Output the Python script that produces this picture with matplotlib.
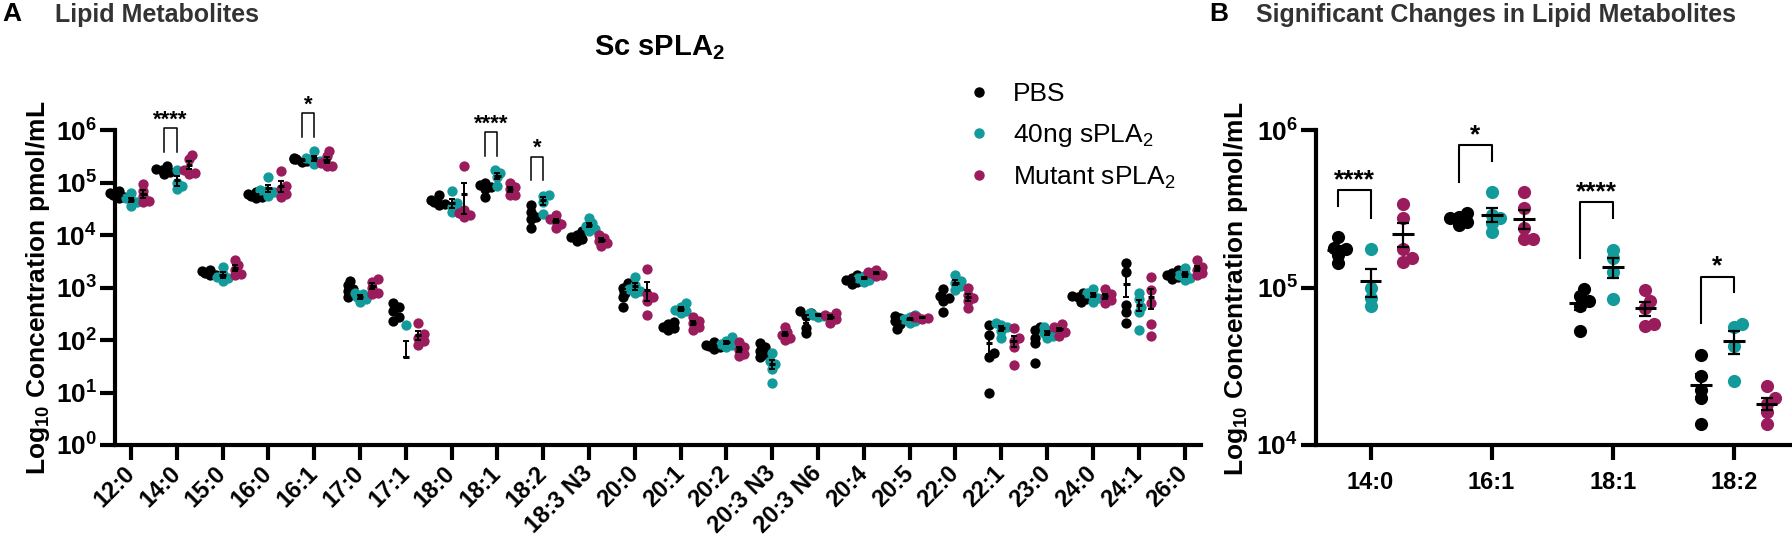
import numpy as np
import matplotlib
matplotlib.use("Agg")
import matplotlib.pyplot as plt
from matplotlib.lines import Line2D
from matplotlib.ticker import NullLocator

plt.rcParams['font.family'] = ['Liberation Sans', 'DejaVu Sans']
plt.rcParams['mathtext.fontset'] = 'custom'
plt.rcParams['mathtext.rm'] = 'Liberation Sans'
plt.rcParams['mathtext.bf'] = 'Liberation Sans:bold'
plt.rcParams['mathtext.it'] = 'Liberation Sans:italic'

# lipid species (x categories of panel A)
lipids = ["12:0", "14:0", "15:0", "16:0", "16:1", "17:0", "17:1", "18:0", "18:1", "18:2",
          "18:3 N3", "20:0", "20:1", "20:2", "20:3 N3", "20:3 N6", "20:4", "20:5", "22:0",
          "22:1", "23:0", "24:0", "24:1", "26:0"]

groups = ["PBS", r"40ng sPLA$_\mathregular{2}$", r"Mutant sPLA$_\mathregular{2}$"]
colors = ["#000000", "#139a9a", "#9a1c5c"]

# concentrations, pmol/mL (one list of replicates per lipid)
pbs = [
    [6.8e4, 6.2e4, 5.8e4, 5.4e4, 5.0e4],
    [2.08e5, 1.79e5, 1.75e5, 1.62e5, 1.43e5],
    [2.2e3, 2.1e3, 1.9e3, 1.75e3, 1.7e3],
    [6.5e4, 6.0e4, 5.6e4, 5.3e4, 5.0e4],
    [2.97e5, 2.82e5, 2.75e5, 2.62e5, 2.49e5],
    [1.35e3, 1.1e3, 9.5e2, 8.5e2, 6.5e2],
    [5.0e2, 4.2e2, 3.6e2, 2.7e2, 2.3e2],
    [5.8e4, 4.6e4, 4.2e4, 3.9e4, 3.7e4],
    [9.75e4, 8.8e4, 8.2e4, 7.6e4, 5.3e4],
    [3.73e4, 2.75e4, 2.25e4, 1.98e4, 1.36e4],
    [1.2e4, 1.0e4, 9.0e3, 8.5e3, 7.8e3],
    [1.2e3, 1.0e3, 8.0e2, 6.5e2, 4.2e2],
    [220, 200, 180, 170, 155],
    [90, 82, 78, 72, 68],
    [88, 72, 62, 55, 48],
    [350, 320, 290, 170, 135],
    [1.7e3, 1.55e3, 1.4e3, 1.3e3, 1.15e3],
    [290, 260, 230, 200, 160],
    [950, 700, 620, 560, 340],
    [195, 125, 56, 48, 10],
    [178, 155, 110, 87, 36],
    [780, 700, 650, 600, 520],
    [2.9e3, 2.0e3, 470, 340, 210],
    [2.2e3, 1.9e3, 1.7e3, 1.6e3, 1.45e3],
]
spla = [
    [6.2e4, 5.0e4, 4.6e4, 4.2e4, 3.6e4],
    [1.75e5, 1.0e5, 8.6e4, 7.6e4],
    [2.5e3, 1.8e3, 1.6e3, 1.5e3, 1.35e3],
    [1.25e5, 7.2e4, 6.8e4, 6.5e4, 5.5e4],
    [4.02e5, 2.9e5, 2.75e5, 2.55e5, 2.25e5],
    [8.0e2, 7.5e2, 6.5e2, 6.0e2, 5.3e2],
    [190, 0, 0, 0],
    [7.0e4, 4.0e4, 3.4e4, 3.0e4, 2.7e4],
    [1.74e5, 1.54e5, 1.26e5, 8.4e4],
    [5.88e4, 5.59e4, 4.23e4, 2.55e4],
    [2.1e4, 1.7e4, 1.5e4, 1.3e4, 1.2e4],
    [1.6e3, 1.1e3, 9.5e2, 8.5e2, 7.8e2],
    [500, 420, 380, 350, 320],
    [115, 95, 85, 80, 75],
    [56, 40, 35, 28, 15],
    [330, 310, 300, 290, 280],
    [1.8e3, 1.65e3, 1.5e3, 1.4e3, 1.3e3],
    [300, 270, 250, 230, 210],
    [1.7e3, 1.35e3, 1.2e3, 1.05e3, 900],
    [210, 190, 175, 150, 110],
    [180, 150, 135, 120, 110],
    [950, 780, 700, 620, 540],
    [800, 600, 420, 340, 155],
    [2.4e3, 1.9e3, 1.7e3, 1.5e3, 1.4e3],
]
mutant = [
    [9.5e4, 7.0e4, 5.5e4, 4.5e4, 4.2e4],
    [3.4e5, 2.78e5, 1.75e5, 1.54e5, 1.46e5],
    [3.3e3, 2.7e3, 2.2e3, 1.8e3, 1.7e3],
    [1.65e5, 8.5e4, 7.5e4, 6.0e4, 5.2e4],
    [4.02e5, 3.2e5, 2.37e5, 2.03e5, 2.03e5],
    [1.45e3, 1.3e3, 1.0e3, 8.0e2, 7.5e2],
    [210, 130, 110, 95, 80],
    [2.05e5, 3.0e4, 2.6e4, 2.4e4, 2.2e4],
    [9.6e4, 8.2e4, 7.4e4, 5.9e4, 5.7e4],
    [2.36e4, 1.98e4, 1.83e4, 1.62e4, 1.36e4],
    [1.0e4, 8.8e3, 7.8e3, 7.0e3, 6.3e3],
    [2.3e3, 750, 650, 550, 300],
    [280, 230, 210, 180, 155],
    [92, 75, 65, 55, 50],
    [175, 140, 125, 110, 100],
    [330, 300, 280, 250, 210],
    [2.2e3, 2.0e3, 1.85e3, 1.75e3, 1.65e3],
    [290, 280, 270, 260, 250],
    [980, 720, 640, 560, 400],
    [170, 110, 95, 74, 33],
    [200, 175, 160, 140, 120],
    [950, 750, 670, 580, 500],
    [1.6e3, 900, 500, 200, 120],
    [3.3e3, 2.5e3, 2.2e3, 1.9e3, 1.7e3],
]

# PBS vs 40ng sPLA2 significance
sig = {"14:0": "****", "16:1": "*", "18:1": "****", "18:2": "*"}

data = [pbs, spla, mutant]
offsets = [-0.27, 0.0, 0.27]


def swarm(vals, dx, dy):
    # spread overlapping dots sideways (dx, dy = collision size in x units / decades)
    logs = np.log10(np.clip(vals, 1e-9, None))
    offs = np.zeros(len(vals))
    placed = []
    for i in np.argsort(logs):
        o = 0.0
        for k in [0, 1, -1, 2, -2, 3, -3]:
            o = k * dx / 2
            if all(((o - po) / dx) ** 2 + ((logs[i] - pl) / dy) ** 2 >= 1 for po, pl in placed):
                break
        offs[i] = o
        placed.append((o, logs[i]))
    return offs


def mean_sem(vals):
    v = np.array(vals, dtype=float)
    m = v.mean()
    s = v.std(ddof=1) / np.sqrt(len(v))
    lo = m - s if m - s > 0 else m
    return m, m - lo, s


def style_axis(ax):
    for side in ["top", "right"]:
        ax.spines[side].set_visible(False)
    for side in ["left", "bottom"]:
        ax.spines[side].set_linewidth(3)
    ax.tick_params(axis="both", which="major", length=11, width=3, direction="out")
    ax.yaxis.set_minor_locator(NullLocator())


fig = plt.figure(figsize=(17.92, 5.43), dpi=100)
axA = fig.add_axes([115 / 1792, 98 / 543, 1086 / 1792, 315 / 543])
axB = fig.add_axes([1316 / 1792, 98 / 543, 476 / 1792, 315 / 543])

# ---- panel A
for g in range(3):
    for i, lip in enumerate(lipids):
        vals = np.array(data[g][i], dtype=float)
        pos = vals[vals > 0]
        jit = swarm(pos, 0.12, 0.1)
        axA.scatter(i + offsets[g] + jit, pos, s=55, color=colors[g], lw=0, zorder=2, clip_on=False)
        m, el, eu = mean_sem(vals)
        axA.errorbar(i + offsets[g], m, yerr=[[el], [eu]], fmt="none", ecolor="black",
                     elinewidth=1.4, capsize=2, capthick=1.4, zorder=4)
        axA.hlines(m, i + offsets[g] - 0.07, i + offsets[g] + 0.07, color="black", lw=2.2, zorder=4)

axA.set_yscale("log")
axA.set_ylim(1, 1e6)
axA.set_xlim(-0.35, 23.36)
axA.set_yticks([10.0 ** k for k in range(7)])
axA.set_yticklabels([r"$\mathbf{10^{%d}}$" % k for k in range(7)])
axA.set_xticks(range(len(lipids)))
axA.set_xticklabels(lipids, rotation=45, ha="right", va="center", rotation_mode="anchor",
                    fontweight="bold", fontsize=17)
axA.tick_params(axis="y", labelsize=19, pad=2)
axA.tick_params(axis="x", pad=7)
style_axis(axA)

for lip, star in sig.items():
    i = lipids.index(lip)
    top = max(max(pbs[i]), max(spla[i]))
    lo, hi = top * 10 ** 0.27, top * 10 ** 0.72
    axA.plot([i - 0.27, i - 0.27, i, i], [lo, hi, hi, lo], color="black", lw=1.1, clip_on=False)
    axA.text(i - 0.135, hi * 10 ** 0.05, star, ha="center", va="baseline", fontsize=16,
             fontweight="bold", clip_on=False)

axA.legend(handles=[Line2D([], [], ls="", marker="o", ms=6.5, color=c) for c in colors],
           labels=groups, loc="upper left", bbox_to_anchor=(971 / 1792, 1 - 82 / 543),
           bbox_transform=fig.transFigure, frameon=False, fontsize=19, handlelength=0.6,
           handletextpad=1.0, labelspacing=0.6, borderpad=0, borderaxespad=0)

# ---- panel B
cats = list(sig.keys())
for g in range(3):
    for j, lip in enumerate(cats):
        i = lipids.index(lip)
        vals = np.array(data[g][i], dtype=float)
        jit = swarm(vals, 0.07, 0.05)
        axB.scatter(j + offsets[g] + jit, vals, s=90, color=colors[g], lw=0, zorder=2, clip_on=False)
        m, el, eu = mean_sem(vals)
        axB.errorbar(j + offsets[g], m, yerr=[[el], [eu]], fmt="none", ecolor="black",
                     elinewidth=1.6, capsize=4.5, capthick=1.6, zorder=4)
        axB.hlines(m, j + offsets[g] - 0.09, j + offsets[g] + 0.09, color="black", lw=2.2, zorder=4)

axB.set_yscale("log")
axB.set_ylim(1e4, 1e6)
axB.set_xlim(-0.45, 3.48)
axB.set_yticks([1e4, 1e5, 1e6])
axB.set_yticklabels([r"$\mathbf{10^{%d}}$" % k for k in [4, 5, 6]])
axB.set_xticks(range(len(cats)))
axB.set_xticklabels(cats, fontweight="bold", fontsize=17)
axB.tick_params(axis="y", labelsize=19, pad=2)
axB.tick_params(axis="x", pad=8)
style_axis(axB)

for j, lip in enumerate(cats):
    i = lipids.index(lip)
    l_leg = max(pbs[i]) * 10 ** 0.2
    r_leg = max(spla[i]) * 10 ** 0.2
    hi = max(l_leg, r_leg) * 10 ** 0.1
    axB.plot([j - 0.27, j - 0.27, j, j], [l_leg, hi, hi, r_leg], color="black", lw=1.5, clip_on=False)
    axB.text(j - 0.135, hi * 10 ** 0.02, sig[lip], ha="center", va="baseline", fontsize=19,
             fontweight="bold", clip_on=False)

# ---- labels and titles
ylab = r"Log$_{\mathbf{10}}$ Concentration pmol/mL"
fig.text(38 / 1792, 1 - 288 / 543, ylab, rotation=90, ha="center", va="center",
         fontsize=19, fontweight="bold")
fig.text(1236 / 1792, 1 - 289 / 543, ylab, rotation=90, ha="center", va="center",
         fontsize=19, fontweight="bold")
fig.text(659 / 1792, 1 - 48 / 543, r"Sc sPLA$_{\mathbf{2}}$", ha="center", va="center",
         fontsize=21, fontweight="bold")
fig.text(2 / 1792, 1 - 14 / 543, "A", ha="left", va="center", fontsize=19, fontweight="bold")
fig.text(55 / 1792, 1 - 15 / 543, "Lipid Metabolites", ha="left", va="center", fontsize=18,
         fontweight="bold", color="#333333")
fig.text(1209 / 1792, 1 - 14 / 543, "B", ha="left", va="center", fontsize=19, fontweight="bold")
fig.text(1256 / 1792, 1 - 15 / 543, "Significant Changes in Lipid Metabolites", ha="left",
         va="center", fontsize=18, fontweight="bold", color="#333333")

fig.savefig("out.png", dpi=100)
